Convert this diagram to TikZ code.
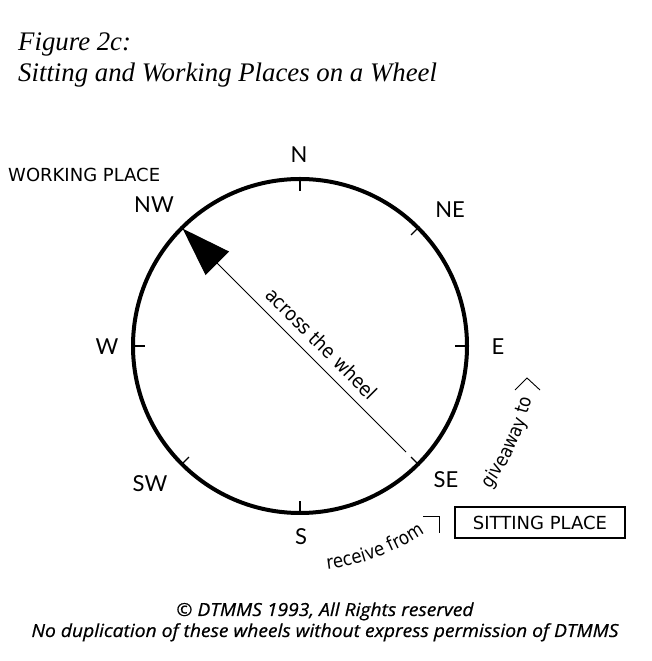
\documentclass[tikz,border=0pt]{standalone}
\usepackage{fontspec}
\usetikzlibrary{arrows.meta,decorations.text}
\newfontfamily\titlefont{Liberation Serif}
\newfontfamily\verd{DejaVu Sans}
\newfontfamily\verdc[FakeStretch=0.9]{DejaVu Sans}
\newfontfamily\verdcc[FakeStretch=0.87]{DejaVu Sans}
\newfontfamily\compassfont{Lato}
\newfontfamily\copyfont[FakeStretch=1.07,FakeBold=0.6]{Open Sans}
\tikzset{
  dir/.style={font=\compassfont\fontsize{22}{24}\selectfont, inner sep=0pt},
  plain/.style={font=\verd\fontsize{18}{21}\selectfont, inner sep=0pt},
  tick/.style={line width=1.2pt},
  copy/.style={font=\copyfont\itshape\fontsize{18}{21}\selectfont, inner sep=0pt, anchor=base},
  ttl/.style={font=\titlefont\itshape\fontsize{26.8}{30}\selectfont, inner sep=0pt, anchor=base west},
  markline/.style={line width=0.9pt}
}
\begin{document}
\begin{tikzpicture}[x=1pt,y=1pt]
\fill[white] (0,0) rectangle (652,661);
\useasboundingbox (0,0) rectangle (652,661);
\coordinate (C) at (300,315);
% title
\node[ttl] (t1) at (18,610) {Figure 2c:};
\node[ttl] (t2) at (18,579) {Sitting and Working Places on a Wheel};
% wheel
\node[circle, draw, line width=4pt, minimum size=334pt, inner sep=0pt, outer sep=0pt] (wheel) at (C) {};
\draw[tick] (wheel.north) -- ++(0,-12);
\draw[tick] (wheel.south) -- ++(0,12);
\draw[tick] (wheel.east) -- ++(-12,0);
\draw[tick] (wheel.west) -- ++(12,0);
\draw[tick] (wheel.north east) -- ++(-135:10);
\draw[tick] (wheel.south east) -- ++(135:10);
\draw[tick] (wheel.south west) -- ++(45:10);
% arrow across
\coordinate (a0) at ([shift={(C)}]-45:150);
\draw[line width=1pt, -{Triangle[length=49pt,width=33pt]}, shorten >=1pt] (a0) -- (wheel.north west)
  node[pos=0.43, sloped, above=9pt, inner sep=0pt, font=\verdc\fontsize{19.5}{22}\selectfont] (acr) {across the wheel};
% labels
\node[dir] (N) at (299,506) {N};
\node[dir] (NW) at (154,456) {NW};
\node[dir] (NE) at (450,451) {NE};
\node[dir] (E) at (498,314) {E};
\node[dir] (W) at (107,314) {W};
\node[dir] (SW) at (150,177) {SW};
\node[dir] (S) at (301,124) {S};
\node[dir] (SE) at (446,181) {SE};
\node[plain, anchor=west] (wp) at (8,486) {WORKING PLACE};
\node[plain, draw, line width=2.2pt, minimum width=170pt, minimum height=31pt] (sp) at (540,138.5) {SITTING PLACE};
% curved texts
\path[decorate, decoration={text along path, text align=left,
  text={|\verdcc\fontsize{19}{22}\selectfont|receive from}}]
  ([shift={(C)}]-83:225) arc[start angle=-83, end angle=-30, radius=225];
\path[decorate, decoration={text along path, text align=left,
  text={|\verdcc\fontsize{19}{22}\selectfont|giveaway to}}]
  ([shift={(C)}]-37:238) arc[start angle=-37, end angle=10, radius=238];
% marks
\coordinate (c1) at (515,271);
\coordinate (c2) at (527,283);
\coordinate (c3) at (540,271);
\draw[markline] (c1) -- (c2) -- (c3);
\coordinate (d1) at (423,145);
\coordinate (d2) at (439,145);
\coordinate (d3) at (439,128);
\draw[markline] (d1) -- (d2) -- (d3);
% copyright
\node[copy] (cp1) at (325,45) {© DTMMS 1993, All Rights reserved};
\node[copy] (cp2) at (325,24) {No duplication of these wheels without express permission of DTMMS};
\end{tikzpicture}
\end{document}
